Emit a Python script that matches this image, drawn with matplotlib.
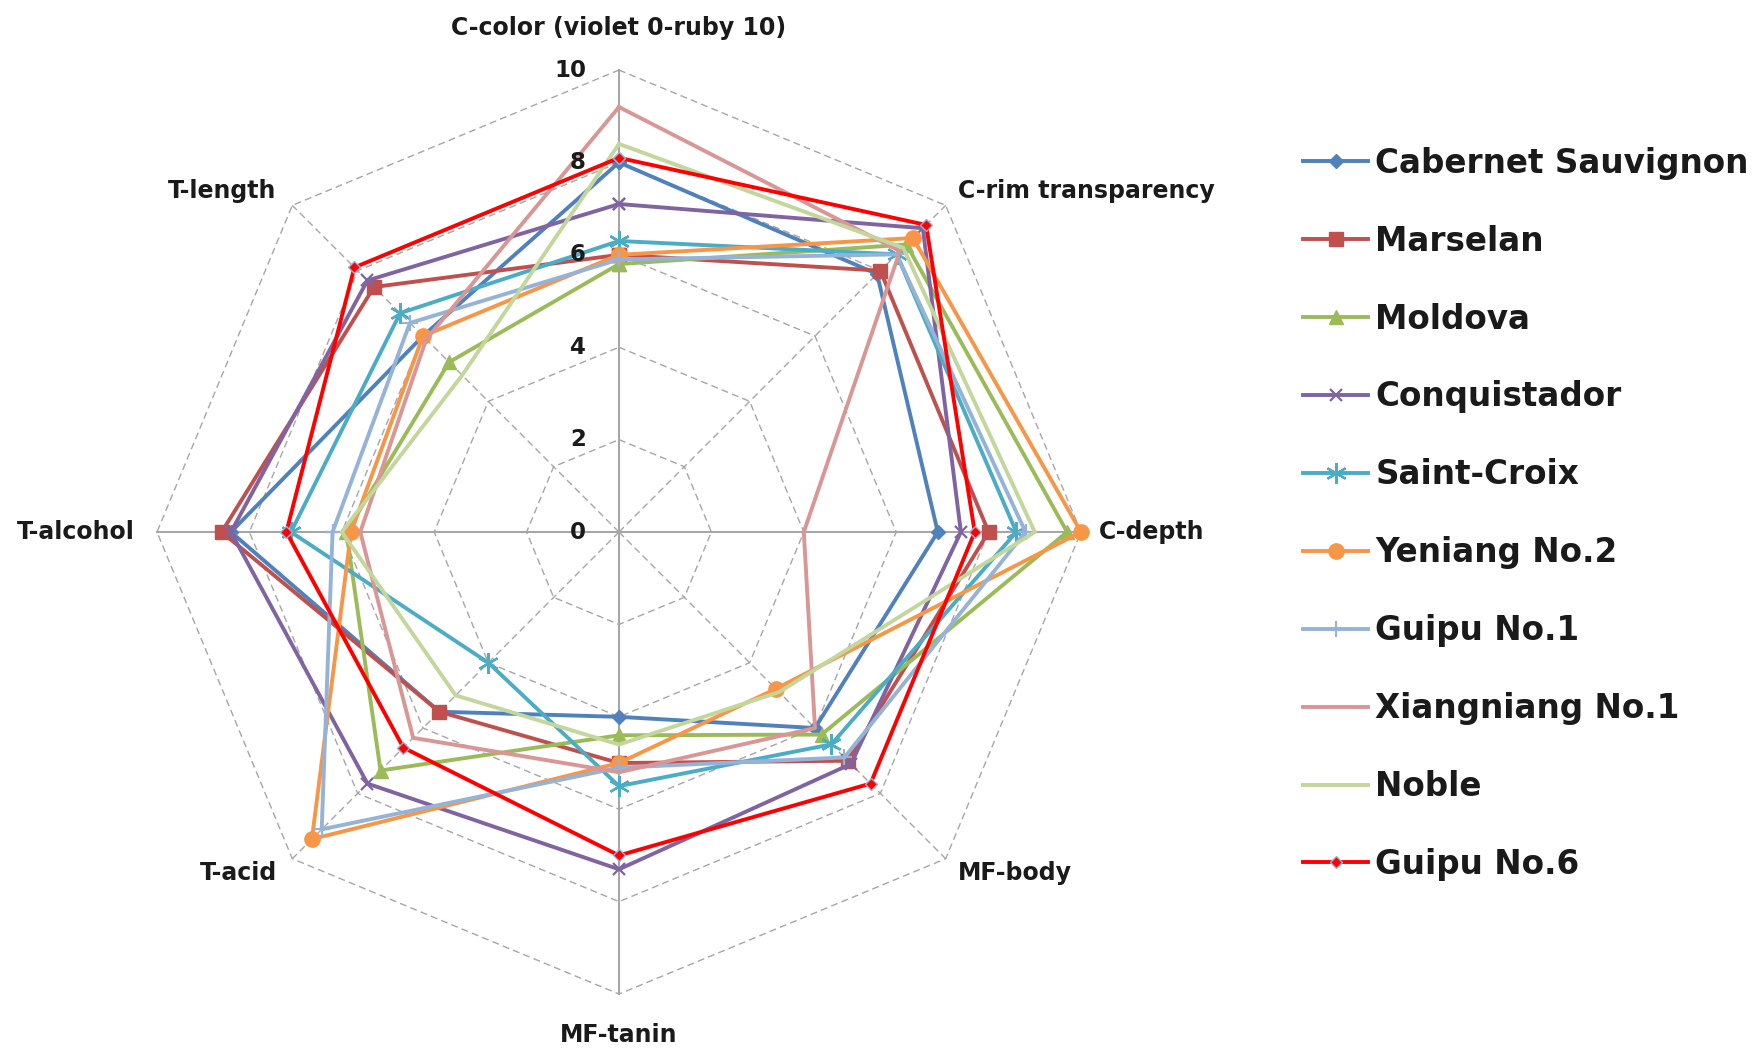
import numpy as np
import matplotlib
matplotlib.use("Agg")
import matplotlib.pyplot as plt

# Data
categories = ["C-color (violet 0-ruby 10)", "C-rim transparency", "C-depth", "MF-body",
              "MF-tanin", "T-acid", "T-alcohol", "T-length"]
cabernet = [8.0, 7.9, 6.9, 6.0, 4.0, 5.5, 8.4, 6.0]
marselan = [6.0, 8.0, 8.0, 7.0, 5.0, 5.5, 8.6, 7.5]
moldova = [5.8, 8.8, 9.7, 6.2, 4.4, 7.3, 5.9, 5.2]
conquistador = [7.1, 9.3, 7.4, 7.1, 7.3, 7.7, 8.4, 7.7]
saint_croix = [6.3, 8.5, 8.6, 6.5, 5.5, 4.0, 7.1, 6.7]
yeniang2 = [6.0, 9.0, 10.0, 4.8, 5.0, 9.4, 5.8, 6.0]
guipu1 = [5.9, 8.5, 8.8, 6.9, 5.1, 9.1, 6.2, 6.4]
xiangniang1 = [9.2, 8.6, 4.0, 6.0, 5.2, 6.3, 5.6, 5.9]
noble = [8.4, 8.7, 9.0, 4.9, 4.6, 5.0, 6.0, 4.8]
guipu6 = [8.1, 9.4, 7.7, 7.7, 7.0, 6.6, 7.2, 8.1]
rticks = [0, 2, 4, 6, 8, 10]

series = [
    ("Cabernet Sauvignon", cabernet, "#4F81BD", "D", 7),
    ("Marselan", marselan, "#C0504D", "s", 10),
    ("Moldova", moldova, "#9BBB59", "^", 10),
    ("Conquistador", conquistador, "#8064A2", "x", 9),
    ("Saint-Croix", saint_croix, "#4BACC6", (6, 2, 0), 15),
    ("Yeniang No.2", yeniang2, "#F79646", "o", 11),
    ("Guipu No.1", guipu1, "#95B3D7", "+", 11),
    ("Xiangniang No.1", xiangniang1, "#D99694", None, 0),
    ("Noble", noble, "#C3D69B", None, 0),
    ("Guipu No.6", guipu6, "#FF0000", "D", 6),
]

plt.rcParams['font.family'] = ['DejaVu Sans']

fig = plt.figure(figsize=(17.58, 10.5), dpi=100)
ax = fig.add_axes([0.0893, 0.0533, 0.5256, 0.88], projection="polar")
ax.set_theta_zero_location("N")
ax.set_theta_direction(-1)
ax.set_ylim(0, 10)
ax.grid(False)
ax.spines["polar"].set_visible(False)
ax.set_xticks([])
ax.set_yticks([])

n = len(categories)
angles = np.arange(n) * 2 * np.pi / n
closed = np.append(angles, angles[0])

# octagon grid
for r in rticks[1:]:
    ax.plot(closed, [r] * (n + 1), color="#A6A6A6", lw=1.0, ls=(0, (5, 3)), zorder=1, clip_on=False)
for i, a in enumerate(angles):
    if i % 2 == 0:
        ax.plot([a, a], [0, 10], color="#A6A6A6", lw=1.5, zorder=1, clip_on=False)
    else:
        ax.plot([a, a], [0, 10], color="#A6A6A6", lw=1.0, ls=(0, (5, 3)), zorder=1, clip_on=False)

# series
handles = []
for name, vals, col, mk, ms in series:
    v = vals + vals[:1]
    kw = dict(color=col, lw=2.8, label=name, clip_on=False, zorder=3)
    if mk is not None:
        mec = col
        if name == "Guipu No.6":
            mec = "#95B3D7"
        kw.update(marker=mk, markersize=ms, markerfacecolor=col, markeredgecolor=mec,
                  markeredgewidth=1.6 if mk in ("x", "+", (6, 2, 0)) else 1.0)
    h, = ax.plot(closed, v, **kw)
    handles.append(h)

# radial tick labels
for r in rticks:
    ax.annotate(str(r), xy=(0, r), xytext=(-33, 0), textcoords="offset pixels",
                ha="right", va="center", fontsize=16.5, fontweight="bold", color="#1a1a1a")

# category labels
offsets = [(0, 42, "center"), (12, 14, "left"), (18, 0, "left"), (12, -14, "left"),
           (0, -41, "center"), (-15, -14, "right"), (-22, 0, "right"), (-16, 14, "right")]
for a, lab, (dx, dy, ha) in zip(angles, categories, offsets):
    ax.annotate(lab, xy=(a, 10), xytext=(dx, dy), textcoords="offset pixels",
                ha=ha, va="center", fontsize=17, fontweight="bold", color="#1a1a1a",
                annotation_clip=False)

leg = fig.legend(handles=handles, loc="upper left", bbox_to_anchor=(0.7412, 0.8603),
                 frameon=False, borderpad=0, borderaxespad=0, fontsize=23.5,
                 labelspacing=1.376, handlelength=2.0, handletextpad=0.22, numpoints=1)
for t in leg.get_texts():
    t.set_fontweight("bold")
    t.set_color("#1a1a1a")

fig.savefig("out.png", dpi=100, facecolor="white")
